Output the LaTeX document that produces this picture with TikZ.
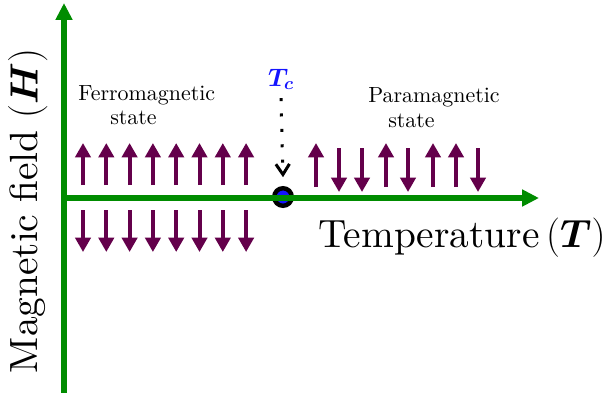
\RequirePackage{fix-cm}
\documentclass[tikz,border=0pt]{standalone}
\usepackage{amsmath,amssymb}
\usepackage{fontspec}
\newfontfamily\tenrm{lmroman10-regular.otf}
\usetikzlibrary{arrows.meta,positioning}
\definecolor{axisgreen}{RGB}{0,140,0}
\definecolor{spinpurple}{RGB}{100,0,75}
\definecolor{tcblue}{RGB}{20,20,255}

\begin{document}
\begin{tikzpicture}[x=0.25mm, y=-0.25mm,
    axis/.style={axisgreen, line width=1.3mm, -{Triangle[length=4.2mm, width=4mm]}},
    spin/.style={spinpurple, line width=1mm, -{Triangle[length=3.6mm, width=3.8mm]}},
    statetxt/.style={anchor=base west, inner sep=0pt, font=\tenrm\fontsize{15.6}{18}\selectfont},
    bigtxt/.style={anchor=base, inner sep=0pt, font=\tenrm\fontsize{28}{33}\selectfont}]
  \useasboundingbox (0,0) rectangle (610,392);
  % ------------------------------------------------------------ critical point
  \node[circle, draw=black, fill=tcblue, line width=1.1mm, minimum size=4.4mm, inner sep=0pt] (tcpt) at (283,197) {};
  \node[anchor=base, inner sep=0pt, text=tcblue, font=\fontsize{18}{20}\selectfont] (tc) at (281,86) {$\boldsymbol{T_c}$};
  \draw[line width=0.75mm, dash pattern=on 0.75mm off 3.1mm, -{Straight Barb[length=2.6mm, width=3.4mm]}]
    (tc.south) ++(0,8) -- ([yshift=2.2mm]tcpt.north);
  % ------------------------------------------------------------ axes
  \coordinate (hbot) at (64,396); \coordinate (htop) at (64,3);
  \coordinate (tleft) at (67,198); \coordinate (tright) at (539,198);
  \draw[axis] (hbot) -- (htop);
  \draw[axis] (tleft) -- (tright);
  \node[bigtxt] (tlab) at (462,247) {Temperature\,$(\boldsymbol{T})$};
  \node[bigtxt, rotate=90] (hlab) at (37.5,211) {Magnetic\hspace{0.3em}field\hspace{0.3em}$(\boldsymbol{H})$};
  % ------------------------------------------------------------ ferromagnetic side
  \node[statetxt] (ferro) at (78,100) {Ferromagnetic};
  \node[statetxt] (ferrost) at (110,124) {state};
  \foreach \i in {0,...,7} {
    \draw[spin] (83+23.3*\i,185) -- (83+23.3*\i,143);
    \draw[spin] (83+23.3*\i,210) -- (83+23.3*\i,252);
  }
  % ------------------------------------------------------------ paramagnetic side
  \node[statetxt] (para) at (368,102) {Paramagnetic};
  \node[statetxt] (parast) at (388,127) {state};
  \foreach \x in {316,386,433,456} \draw[spin] (\x,187) -- (\x,143);
  \foreach \x in {339,362,408,478} \draw[spin] (\x,148) -- (\x,192);
\end{tikzpicture}
\end{document}
